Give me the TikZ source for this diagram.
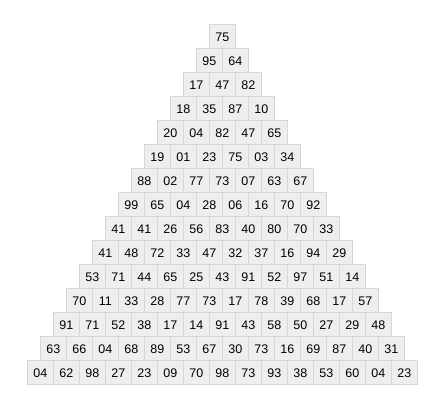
\documentclass[tikz,border=0pt]{standalone}
\usepackage{fontspec}
\setmainfont{Liberation Sans}
\definecolor{cellfill}{HTML}{EEEEEE}
\definecolor{cellline}{HTML}{D6D6D6}
\definecolor{celltext}{HTML}{000000}
\begin{document}
\begin{tikzpicture}[x=1pt,y=1pt,
  cell/.style={draw=cellline, fill=cellfill, line width=1pt, minimum width=26pt, minimum height=24pt,
    inner sep=0pt, text=celltext, font=\fontsize{12.5}{14}\selectfont}]
\useasboundingbox (0,0) rectangle (445,411);
\def\rows{{75},{95,64},{17,47,82},{18,35,87,10},{20,04,82,47,65},{19,01,23,75,03,34},{88,02,77,73,07,63,67},{99,65,04,28,06,16,70,92},{41,41,26,56,83,40,80,70,33},{41,48,72,33,47,32,37,16,94,29},{53,71,44,65,25,43,91,52,97,51,14},{70,11,33,28,77,73,17,78,39,68,17,57},{91,71,52,38,17,14,91,43,58,50,27,29,48},{63,66,04,68,89,53,67,30,73,16,69,87,40,31},{04,62,98,27,23,09,70,98,73,93,38,53,60,04,23}}
\foreach \row [count=\r from 0] in \rows {
  \foreach \v [count=\i from 0] in \row {
    \node[cell] (c-\r-\i) at ({222.3+(\i-\r/2)*26},{411-37-24*\r}) {\v};
  }
}
\end{tikzpicture}
\end{document}
